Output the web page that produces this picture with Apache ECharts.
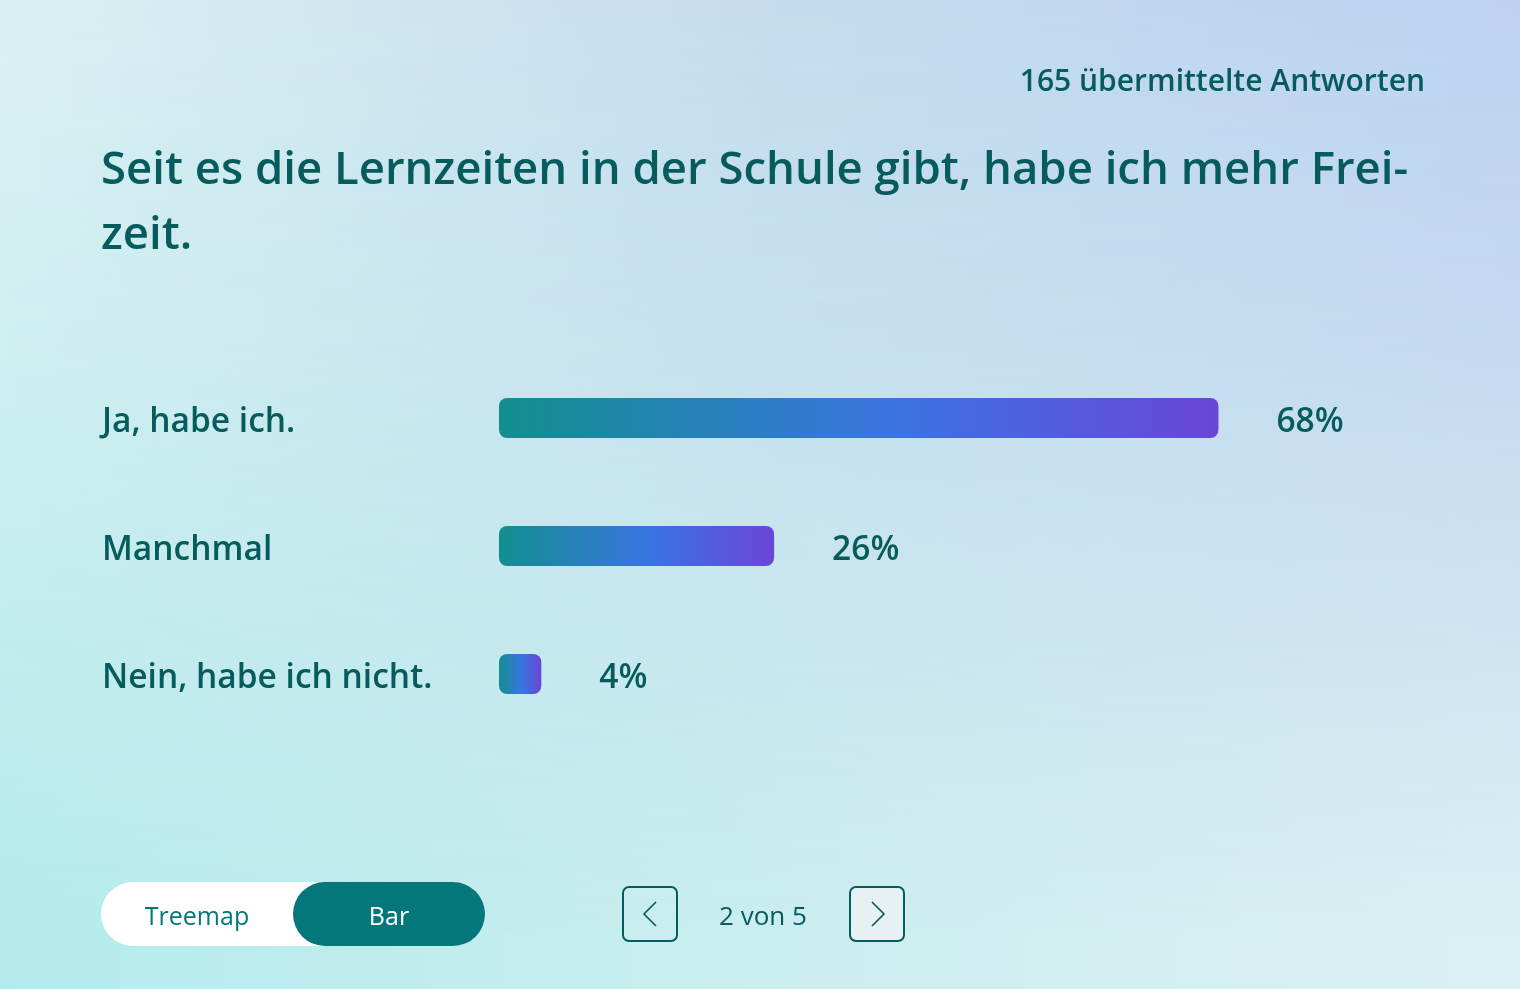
<!DOCTYPE html>
<html>
<head>
<meta charset="utf-8">
<script src="https://cdn.jsdelivr.net/npm/echarts@6/dist/echarts.min.js"></script>
<style>
  html, body { margin: 0; padding: 0; width: 1520px; height: 989px; overflow: hidden; }
  #bg { position: absolute; left: 0; top: 0; width: 1520px; height: 989px;
        background: linear-gradient(to right, #b3ebec 0%, #cdeef0 55%, #dbf0f3 100%); }
  #bg::before { content: ''; position: absolute; inset: 0;
        background: linear-gradient(to right, #d9f0f2 0%, #c4dcee 50%, #bcd2f0 100%);
        -webkit-mask-image: linear-gradient(to bottom, #000 0%, rgba(0,0,0,0.75) 35%, rgba(0,0,0,0) 95%);
        mask-image: linear-gradient(to bottom, #000 0%, rgba(0,0,0,0.75) 35%, rgba(0,0,0,0) 95%); }
  #chart { position: absolute; left: 0; top: 0; width: 1520px; height: 989px; }
</style>
</head>
<body>
<div id="bg"></div>
<div id="chart"></div>
<script>
// Antworten
const categories = ['Ja, habe ich.', 'Manchmal', 'Nein, habe ich nicht.']
const percents = [68, 26, 4]
const question = 'Seit es die Lernzeiten in der Schule gibt, habe ich mehr Frei-\nzeit.'
const responses = '165 übermittelte Antworten'
const pageText = '2 von 5'
const viewModes = ['Treemap', 'Bar']

const FONT = '"Open Sans", "Noto Sans", sans-serif'
const DARK = '#065b5d'
const TEAL = '#04777a'

const myChart = echarts.init(document.getElementById('chart'))

const barColor = new echarts.graphic.LinearGradient(0, 0, 1, 0, [
  { offset: 0, color: '#128f8f' },
  { offset: 0.55, color: '#3a74e0' },
  { offset: 1, color: '#6a46d6' }
])

myChart.setOption({
  backgroundColor: 'transparent',
  animation: false,
  // 100% wäre breiter als das Fenster, daher endet die Achse bei 96.5
  grid: { left: 499, top: 354, right: 0, height: 384 },
  xAxis: {
    type: 'value',
    min: 0,
    max: 96.5,
    show: false
  },
  yAxis: {
    type: 'category',
    data: categories,
    inverse: true,
    axisLine: { show: false },
    axisTick: { show: false },
    axisLabel: {
      align: 'left',
      verticalAlign: 'top',
      lineHeight: 8,
      margin: 397,
      fontFamily: FONT,
      fontSize: 33.5,
      fontWeight: 600,
      color: DARK
    }
  },
  series: [
    {
      type: 'bar',
      data: percents,
      barWidth: 40,
      itemStyle: { color: barColor, borderRadius: 8 },
      label: {
        show: true,
        position: 'right',
        distance: 58,
        offset: [0, 4],
        formatter: '{c}%',
        fontFamily: FONT,
        fontSize: 33.5,
        fontWeight: 600,
        color: DARK
      }
    }
  ],
  graphic: [
    // Kopfzeile
    {
      type: 'text', right: 95, top: 67,
      style: { text: responses, font: '600 30px ' + FONT, fill: DARK }
    },
    {
      type: 'text', left: 101, top: 139,
      style: { text: question, font: '600 45.5px ' + FONT, fill: DARK, lineHeight: 65 }
    },
    // Umschalter Treemap / Bar
    {
      type: 'rect', shape: { x: 101, y: 882, width: 384, height: 64, r: 32 },
      style: { fill: '#ffffff' }
    },
    {
      type: 'rect', shape: { x: 293, y: 882, width: 192, height: 64, r: 32 },
      style: { fill: TEAL }
    },
    {
      type: 'text', x: 197, y: 918,
      style: { text: viewModes[0], font: '400 25px ' + FONT, fill: TEAL, textAlign: 'center', textVerticalAlign: 'middle' }
    },
    {
      type: 'text', x: 389, y: 918,
      style: { text: viewModes[1], font: '400 25px ' + FONT, fill: '#ffffff', textAlign: 'center', textVerticalAlign: 'middle' }
    },
    // Blättern
    {
      type: 'rect', shape: { x: 623, y: 887, width: 54, height: 54, r: 6 },
      style: { fill: 'rgba(255,255,255,0.05)', stroke: DARK, lineWidth: 2 }
    },
    {
      type: 'polyline', shape: { points: [[656, 902], [644, 914], [656, 926]] },
      style: { stroke: DARK, lineWidth: 1.6, fill: null }
    },
    {
      type: 'text', x: 763, y: 918,
      style: { text: pageText, font: '400 26px ' + FONT, fill: DARK, textAlign: 'center', textVerticalAlign: 'middle' }
    },
    {
      type: 'rect', shape: { x: 850, y: 887, width: 54, height: 54, r: 6 },
      style: { fill: '#e6f1f3', stroke: DARK, lineWidth: 2 }
    },
    {
      type: 'polyline', shape: { points: [[872, 902], [884, 914], [872, 926]] },
      style: { stroke: DARK, lineWidth: 1.6, fill: null }
    }
  ]
})
</script>
</body>
</html>
